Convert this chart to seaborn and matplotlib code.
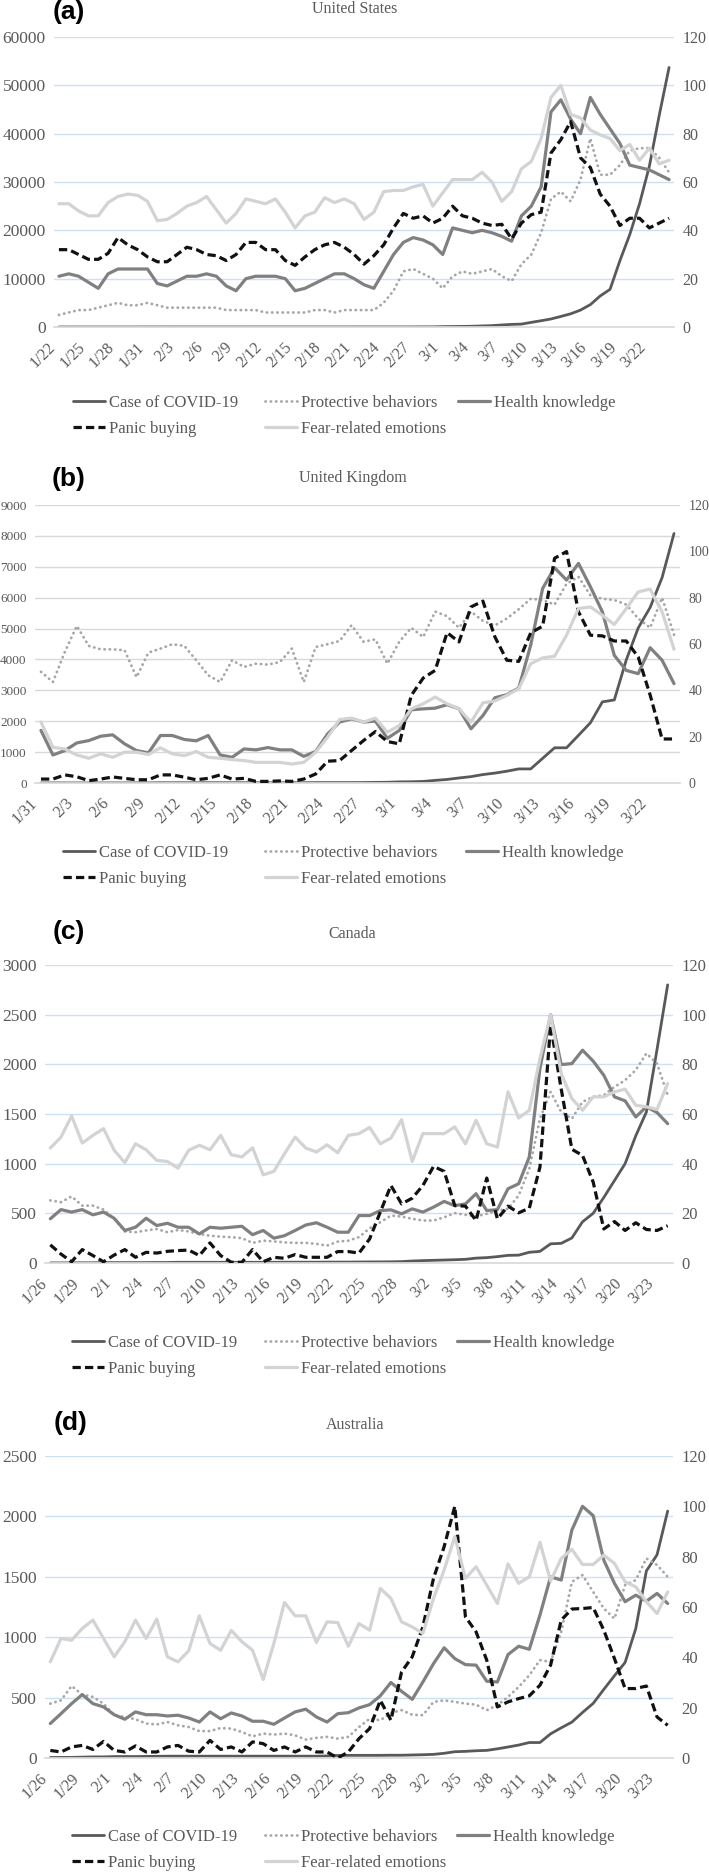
import numpy as np
import pandas as pd
import matplotlib
matplotlib.use("Agg")
import matplotlib.pyplot as plt
import seaborn as sns

sns.set_theme(style="white")
plt.rcParams['font.family'] = ['Liberation Serif', 'DejaVu Serif']

# ---------------- data (indices read on the right axis, cases on the left) -------------
# United States, 1/22 - 3/24
us_ticks = ['1/22', '1/25', '1/28', '1/31', '2/3', '2/6', '2/9', '2/12', '2/15', '2/18', '2/21',
            '2/24', '2/27', '3/1', '3/4', '3/7', '3/10', '3/13', '3/16', '3/19', '3/22']
us_cases = [1, 1, 2, 2, 5, 5, 5, 5, 5, 7,
            8, 8, 11, 11, 11, 12, 12, 12, 12, 12,
            13, 13, 14, 14, 14, 14, 14, 14, 14, 14,
            16, 16, 16, 16, 16, 16, 17, 30, 30,
            75, 100, 120, 155, 220, 280, 420, 540, 600, 960,
            1300, 1660, 2180, 2730, 3500, 4630, 6420, 7790, 13700, 19100,
            25500, 33300, 43800, 53700]
us_protective = [5, 6, 7, 7, 8, 9, 10, 9, 9, 10, 9, 8, 8, 8, 8, 8, 8, 7, 7, 7, 7, 6, 6, 6, 6, 6,
                 7, 7, 6, 7, 7, 7, 7, 10, 15, 23, 24, 22, 20, 16, 21, 23, 22, 23, 24, 21, 19, 26,
                 30, 39, 53, 56, 52, 61, 78, 63, 63, 67, 73, 74, 74, 70, 64]
us_health = [21, 22, 21, 18.5, 16, 22, 24, 24, 24, 24, 18, 17, 19, 21, 21, 22, 21, 17, 15, 20,
             21, 21, 21, 20, 15, 16, 18, 20, 22, 22, 20, 17.5, 16, 23, 30, 35, 37, 36, 34, 30,
             41, 40, 39, 40, 39, 37.5, 35.5, 46, 50, 58, 89, 94, 86, 80, 95, 88, 82, 76, 67, 66,
             65, 63, 61]
us_panic = [32, 32, 30, 28, 28, 30.5, 37, 34, 32, 29, 27, 27, 30, 33, 32, 30, 29.5, 27.5, 30, 35,
            35, 32, 32, 27.5, 25.5, 29, 32, 34, 35, 33, 30, 26, 29.5, 34, 41, 47, 45, 46, 43, 45,
            50, 46, 45, 43, 42, 42.5, 36.5, 43, 46.5, 47.5, 72, 77.5, 85, 70, 66, 55, 50, 42, 45,
            45, 41, 43, 45]
us_fear = [51, 51, 48, 46, 46, 51.5, 54, 55, 54.5, 52, 44, 44.5, 47, 50, 51.5, 54, 48.5, 43, 47,
           53, 52, 51, 53, 47.5, 41, 46, 47.5, 53.5, 51.5, 53, 51, 44.5, 47.5, 56, 56.5, 56.5,
           58, 59, 50, 55.5, 61, 61, 61, 64, 60, 52, 56, 65.5, 68.5, 78, 95, 100, 88, 86.5,
           81.5, 79.5, 78, 73, 75.5, 69, 74, 67.5, 69]

# United Kingdom, 1/31 - 3/24
uk_ticks = ['1/31', '2/3', '2/6', '2/9', '2/12', '2/15', '2/18', '2/21', '2/24', '2/27',
            '3/1', '3/4', '3/7', '3/10', '3/13', '3/16', '3/19', '3/22']
uk_cases = [2,
            2, 2, 2, 2, 2, 3, 3, 3, 3, 8,
            8, 9, 9, 9, 9, 9, 9, 9, 9, 9,
            9, 9, 13, 13, 13, 13, 15, 20, 23,
            36, 40, 51, 85, 115, 163, 206, 273, 321, 382,
            456, 456, 798, 1140, 1140, 1543, 1950, 2626, 2689, 3983,
            5018, 5683, 6650, 8077]
uk_protective = [48, 43.6, 56.6, 67.8, 59.2, 57.7, 57.7, 57.3, 45.7, 56.3, 58, 59.9, 59.2, 53,
                 46.5, 43.6, 53, 50.1, 51.5, 51.1, 52.2, 58, 43.6, 58.7, 59.9, 61.3, 68.1,
                 61, 62, 51.5, 61, 67, 63, 74, 72, 67, 74, 70, 68, 71, 75, 79.5, 79, 77, 86, 89,
                 81, 79.5, 79, 77, 71, 67, 80, 64]
uk_health = [22.7, 12.1, 14, 17.3, 18.3, 20.2, 20.8, 16.9, 14, 13, 20.5, 20.5, 18.8, 18.2, 20.5,
             12.1, 11.1, 14.7, 14.3, 15.3, 14.3, 14.3, 11.5, 13.6, 21.2, 26.3, 27.7,
             26.3, 26.7, 19.3, 22.7, 31.6, 32, 32.3, 33.8, 32, 23.4, 29.1, 36.8, 38.1, 41, 59.5,
             84, 92.9, 87.6, 94.8, 84.7, 73.9, 55.1, 48.6, 47.2, 58.4, 53, 42.9]
uk_panic = [1.7, 1.7, 3.5, 2.7, 1, 1.7, 2.6, 2, 1.4, 1.4, 3.5, 3.5, 2.5, 1.4, 2, 3.5, 1.7, 2,
            0.7, 0.7, 0.9, 0.7, 1.7, 3.9, 9.4, 9.7, 14, 18.3, 22.2, 17.9, 16.9, 37.8, 45.3, 48.6,
            64.9, 60.9, 76, 78.5, 63.1, 53, 52.5, 64.8, 67.7, 97, 99.9, 73.9, 63.8, 63.5, 61.3,
            61.3, 54.4, 38, 19, 19]
uk_fear = [26.3, 15.4, 14.7, 12.1, 10.7, 12.6, 11.1, 13.3, 13.3, 12.3, 15.2, 12.6, 11.8, 13.6,
           11.1, 10.7, 10.1, 9.7, 8.9, 8.9, 8.9, 8.2, 8.9, 13.3, 19.8, 27.4, 28, 26.3, 28, 21.9,
           24.8, 32, 34.2, 37.1, 34.2, 32, 26.3, 34.6, 35.4, 37.8, 40.7, 51.5, 54, 54.7, 63.8,
           75.3, 76, 72.4, 68.4, 75.3, 82.5, 83.7, 73.9, 57.7]

# Canada, 1/26 - 3/24
ca_ticks = ['1/26', '1/29', '2/1', '2/4', '2/7', '2/10', '2/13', '2/16', '2/19', '2/22',
            '2/25', '2/28', '3/2', '3/5', '3/8', '3/11', '3/14', '3/17', '3/20', '3/23']
ca_cases = [1, 1, 2, 2, 2, 4,
            4, 4, 4, 4, 5, 5, 7, 7, 7, 7,
            7, 7, 7, 7, 7, 7, 8, 8, 8, 8,
            9, 9, 9, 10, 11, 11, 12, 14, 20,
            24, 27, 30, 33, 37, 49, 54, 64, 77, 79,
            108, 117, 193, 198, 252, 415, 500, 660, 830, 1000,
            1280, 1520, 2150, 2800]
ca_protective = [25.2, 24.5, 26.8, 23.1, 23.1, 21.5, 17.8, 12.7, 12.4, 13.1, 13.7, 12.4, 13.3,
                 12.7, 11.7, 11, 10.6, 10.4, 10, 8.1, 9, 8.7, 8.3, 8.1, 8.1, 7.7, 7, 8.6, 9,
                 10.4, 14, 16.4, 19.1, 18.7, 17.8, 17.1, 17.1, 18.4, 20.1, 19.4, 18.8, 19.8,
                 21.1, 21.8, 27.2, 38, 58.1, 68.9, 60.8, 58.1, 64.9, 66.9, 67.6, 70.9, 73.6,
                 77.7, 84.4, 80.3, 67.6]
ca_health = [17.8, 21.5, 20.5, 21.5, 19.4, 20.5, 18, 13.1, 14.4, 18, 15.1, 16, 14.4, 14.4, 11.7,
             14.4, 14, 14.4, 14.8, 11.4, 13.1, 10, 11, 13.1, 15.3, 16.2, 14.4, 12.4, 12.4, 19.1,
             19.1, 21.1, 21.4, 19.8, 21.8, 20.5, 22.5, 24.8, 23.1, 23.8, 27.9, 21.1, 21.5, 29.9,
             31.9, 42.7, 78.3, 100, 79.9, 80.3, 85.7, 81.3, 75.6, 66.9, 65.3, 58.8, 62.9, 60.6,
             56.1]
ca_panic = [7.3, 3.6, 0.5, 5.4, 3, 0.5, 3.2, 5.4, 2.3, 4.3, 4, 4.7, 5, 5.2, 3, 8.1, 3, 0.3, 0.3,
            5.4, 0.5, 2.3, 1.9, 3.4, 2.3, 2.3, 2.3, 4.6, 4.6, 4, 9.7, 20.5, 31.2, 23.8, 26.1,
            31.2, 38.9, 36.9, 23.1, 22.9, 17.1, 34.2, 17.8, 22.9, 20.2, 22.1, 38.6, 95.8, 70,
            45.8, 43.3, 32.6, 13.7, 16.7, 13.1, 16.2, 13.5, 13.1, 15]
ca_fear = [46.3, 50.7, 59.2, 48.3, 51.4, 54.1, 45.4, 40.4, 48, 45.6, 41.3, 40.9, 38.2, 45.4,
           47.4, 45.6, 51.4, 43.6, 42.7, 46.4, 35.5, 36.9, 44, 50.7, 46.3, 44.7, 47.6, 44.4,
           51.4, 52.1, 54.6, 48, 50.3, 57.7, 40.9, 52.1, 52.1, 52.1, 54.8, 48, 57.5, 48, 46.7,
           68.9, 58.4, 61.5, 82.4, 100, 76.3, 66.2, 61.5, 66.9, 66.9, 68.9, 70, 63.5, 62.9,
           61.8, 72.3]

# Australia, 1/26 - 3/24
au_ticks = ca_ticks
au_cases = [4, 5, 5, 7, 9, 9,
            12, 12, 12, 13, 14, 15, 15, 15, 15, 15,
            15, 15, 15, 15, 15, 15, 15, 15, 15, 15,
            17, 21, 22, 22, 22, 22, 23, 23, 25,
            27, 30, 39, 52, 55, 60, 63, 76, 91, 107,
            128, 128, 200, 250, 297, 377, 452, 568, 681, 791,
            1071, 1549, 1682, 2044]
au_protective = [21.6, 22.9, 28.6, 25.2, 24.3, 21.6, 17, 16.3, 15.4, 13.7, 13.3, 14.3, 13, 12.3,
                 10.7, 10.7, 11.9, 11.7, 10.3, 8.6, 9.7, 9.3, 9.7, 9, 7.3, 8, 8.4, 7.7, 8.4,
                 12.3, 15.6, 15, 17.9, 19, 17.2, 17, 22.3, 22.9, 22.3, 21.6, 21.2, 19, 21, 24.3,
                 28.2, 32.9, 38.9, 38.2, 50.1, 70, 72.7, 66, 59.4, 55.4, 68.7, 70.7, 79.3, 76.7,
                 72]
au_health = [13.7, 17.6, 21.6, 25.2, 21.6, 20.3, 17.2, 15.4, 18.3, 17.2, 17.2, 16.7, 17, 15.9,
             14.3, 18.3, 15.6, 17.9, 16.7, 14.6, 14.6, 13.4, 15.9, 18.3, 19.4, 16.3, 14.3, 17.6,
             18, 19.9, 21.2, 24.7, 30, 26.5, 23.3, 30.2, 37.5, 43.8, 39.5, 37.1, 36.9, 30.5,
             30.2, 41.1, 44.4, 43.2, 56.8, 72, 70.7, 90.6, 100, 96.3, 78.6, 69.4, 62.1, 64.7,
             62.3, 65.4, 61.4]
au_panic = [3, 2.4, 4.4, 5, 3.4, 6.6, 3, 2.4, 4.8, 2.4, 2.4, 4.4, 5, 2.7, 2.4, 7, 3.4, 4.4, 2.4,
            6.4, 5.7, 3, 4.4, 2.4, 4.4, 2.4, 2.4, 0, 2.4, 7.7, 11.7, 22.9, 15, 34.2, 40.2, 52.1,
            71.4, 84, 100, 56.1, 50.1, 38.9, 20.3, 22.3, 23.6, 24.7, 28.9, 36.9, 54.8, 59.2,
            59.4, 59.8, 50.8, 39.5, 27.6, 27.6, 28.6, 16.3, 13]
au_fear = [38.2, 47.5, 46.8, 51.5, 54.8, 47.5, 40.2, 46.2, 54.8, 47.5, 55.2, 40.2, 38.2, 42.6,
           56.5, 45.5, 42.8, 50.7, 46.2, 42.8, 31.2, 45.5, 61.8, 56.5, 56.5, 45.9, 54.1, 53.8,
           44.4, 53.4, 50.8, 67.4, 63.4, 54.1, 52.1, 49.5, 63.4, 74.7, 88, 71.4, 76, 68.7,
           61.4, 77.1, 69.4, 72, 85.7, 70.3, 79.3, 82.9, 76.9, 76.9, 80.6, 77.3, 70, 68, 62.1,
           57.4, 66]

# line looks
styles = {
    'Case of COVID-19': dict(color='#595959', linewidth=2.0, linestyle='-'),
    'Protective behaviors': dict(color='#a6a6a6', linewidth=2.0, linestyle=(0, (0.1, 1.8)),
                                 dash_capstyle='round'),
    'Health knowledge': dict(color='#808080', linewidth=2.3, linestyle='-'),
    'Panic buying': dict(color='#111111', linewidth=2.3, linestyle=(0, (2.6, 1.3))),
    'Fear-related emotions': dict(color='#d3d3d3', linewidth=2.3, linestyle='-'),
}
# legend laid out like Excel: equal-width columns, filled row by row
legend_cols = [['Case of COVID-19', 'Panic buying'],
               ['Protective behaviors', 'Fear-related emotions'],
               ['Health knowledge']]

TXT = '#595959'
BLUE_GRID = '#cddff2'
GREY_GRID = '#d9d9d9'
W, H = 709, 1876

panels = [
    dict(letter='(a)', title='United States', cases=us_cases, prot=us_protective,
         health=us_health, panic=us_panic, fear=us_fear, ticks=us_ticks,
         ymax=60000, ystep=10000, box=(54, 674, 37, 327), grid=BLUE_GRID,
         title_xy=(355, 9), letter_xy=(53, 0), legend_y=395, legend_x=(73, 265, 458),
         lfs=12.5, rfs=11.5),
    dict(letter='(b)', title='United Kingdom', cases=uk_cases, prot=uk_protective,
         health=uk_health, panic=uk_panic, fear=uk_fear, ticks=uk_ticks,
         ymax=9000, ystep=1000, box=(35, 680, 505, 783), grid=GREY_GRID,
         title_xy=(353, 478), letter_xy=(52, 467), legend_y=845, legend_x=(63, 265, 466),
         lfs=9.5, rfs=10),
    dict(letter='(c)', title='Canada', cases=ca_cases, prot=ca_protective,
         health=ca_health, panic=ca_panic, fear=ca_fear, ticks=ca_ticks,
         ymax=3000, ystep=500, box=(45, 673, 965, 1263), grid=BLUE_GRID,
         title_xy=(352, 934), letter_xy=(53, 920), legend_y=1335, legend_x=(72, 265, 457),
         lfs=12.5, rfs=12),
    dict(letter='(d)', title='Australia', cases=au_cases, prot=au_protective,
         health=au_health, panic=au_panic, fear=au_fear, ticks=au_ticks,
         ymax=2500, ystep=500, box=(45, 673, 1456, 1758), grid=BLUE_GRID,
         title_xy=(355, 1425), letter_xy=(54, 1411), legend_y=1829, legend_x=(72, 265, 457),
         lfs=12.5, rfs=12),
]

fig = plt.figure(figsize=(W / 100, H / 100), dpi=100)

for p in panels:
    l, r, t, b = p['box']
    ax = fig.add_axes([l / W, 1 - b / H, (r - l) / W, (b - t) / H])
    ax2 = ax.twinx()
    n = len(p['cases'])
    day = np.arange(n)

    lines = {}
    sns.lineplot(x=day, y=p['cases'], ax=ax, **styles['Case of COVID-19'])
    lines['Case of COVID-19'] = ax.lines[-1]
    for name, key in [('Protective behaviors', 'prot'), ('Health knowledge', 'health'),
                      ('Panic buying', 'panic'), ('Fear-related emotions', 'fear')]:
        sns.lineplot(x=day, y=p[key], ax=ax2, **styles[name])
        lines[name] = ax2.lines[-1]

    ax.set_xlim(-0.5, n - 0.5)
    ax.set_ylim(0, p['ymax'])
    ax.set_yticks(np.arange(0, p['ymax'] + 1, p['ystep']))
    ax2.set_ylim(0, 120)
    ax2.set_yticks(np.arange(0, 121, 20))
    ax.set_xticks(np.arange(0, n, 3))
    ax.set_xticklabels(p['ticks'], rotation=45, ha='right', fontsize=11.5, color=TXT)
    ax.set_xlabel('')
    ax.set_ylabel('')
    ax2.set_ylabel('')
    ax.yaxis.grid(True, color=p['grid'], linewidth=1.0)
    ax.xaxis.grid(False)
    ax2.grid(False)
    for a in (ax, ax2):
        for s in ['top', 'left', 'right', 'bottom']:
            a.spines[s].set_visible(False)
    ax.spines['bottom'].set_visible(True)
    ax.spines['bottom'].set_color(GREY_GRID)
    ax.tick_params(axis='x', length=0, pad=9)
    ax.tick_params(axis='y', length=0, pad=6, labelsize=p['lfs'], labelcolor=TXT)
    ax2.tick_params(axis='y', length=0, pad=6, labelsize=p['rfs'], labelcolor=TXT)

    # one small legend per column, so the columns sit at Excel's even spacing
    for cx, names in zip(p['legend_x'], legend_cols):
        fig.legend([lines[k] for k in names], names, loc='upper left',
                   bbox_to_anchor=(cx / W, 1 - p['legend_y'] / H), frameon=False,
                   fontsize=12, handlelength=1.9, handletextpad=0.25, labelspacing=0.6,
                   borderpad=0, borderaxespad=0, labelcolor=TXT)

    tx, ty = p['title_xy']
    fig.text(tx / W, 1 - ty / H, p['title'], ha='center', va='center', fontsize=11.5,
             color=TXT)
    lx, ly = p['letter_xy']
    fig.text(lx / W, 1 - ly / H, p['letter'], ha='left', va='top', fontsize=19,
             fontweight='bold', family='Liberation Sans', color='black')

fig.savefig('out.png', dpi=100)
